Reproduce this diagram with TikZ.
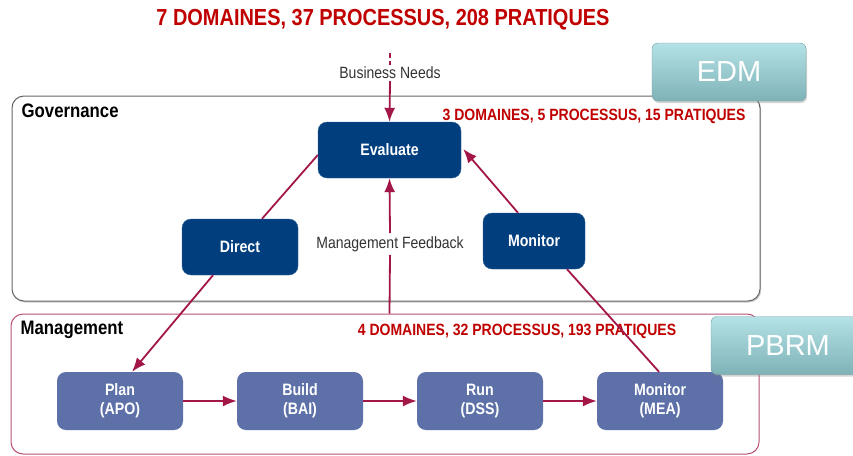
\documentclass[tikz,border=0pt]{standalone}
\usepackage{fontspec}
\setmainfont{Liberation Sans}
\newfontfamily\narrowfont[FakeStretch=0.86]{Liberation Sans}
\usepackage{tikz}
\usetikzlibrary{calc,positioning,arrows.meta,shadows}
\definecolor{navy}{RGB}{0,62,126}
\definecolor{slate}{RGB}{93,113,168}
\definecolor{wine}{RGB}{162,22,72}
\definecolor{titlered}{RGB}{192,0,0}
\definecolor{tealtop}{RGB}{180,226,230}
\definecolor{tealbot}{RGB}{126,178,183}
\tikzset{flow/.style={wine,line width=1.8pt},tip/.style={-{Latex[length=14pt,width=11pt]}},labeltext/.style={font=\narrowfont\fontsize{16.3}{17}\selectfont,text=black!80}}

\begin{document}
\begin{tikzpicture}[x=1pt,y=-1pt]

\tikzset{govnode/.style={font=\narrowfont\bfseries\fontsize{16.5}{17}\selectfont,text=white,fill=navy,draw=navy!80,rounded corners=9pt,minimum height=56pt,inner sep=0pt},
mgmtnode/.style={font=\narrowfont\bfseries\fontsize{16.5}{19}\selectfont,text=white,fill=slate,rounded corners=9pt,minimum width=126pt,minimum height=58pt,inner sep=0pt,align=center},
tealbox/.style={top color=tealtop,bottom color=tealbot,draw=tealbot!90!black,rounded corners=6pt,inner sep=0pt,minimum height=58pt,drop shadow={shadow xshift=1pt,shadow yshift=-2pt,opacity=.35}},
tealtext/.style={font=\fontsize{29}{30}\selectfont,text=white,inner sep=0pt},
countstext/.style={font=\narrowfont\bfseries\fontsize{16.3}{17}\selectfont,text=titlered},
framebox/.style={rounded corners=12pt,minimum width=748pt,inner sep=0pt,fill=white},
framelabel/.style={font=\narrowfont\bfseries\fontsize{19.5}{20}\selectfont,anchor=north west,inner sep=0pt}}

\useasboundingbox (0,0) rectangle (853,455);

% Frames
\node[framebox,draw=black!60,line width=1pt,minimum height=205pt,drop shadow={shadow xshift=1.2pt,shadow yshift=-1.5pt,opacity=.4}] (gov) at (386,198.5) {};
\node[framebox,draw=wine!75,line width=1pt,minimum height=140pt] (mgmt) at (385,384) {};
\node[framelabel] (govlabel) at ($(gov.north west)+(10,8)$) {Governance};
\node[framelabel] (mgmtlabel) at ($(mgmt.north west)+(10,7)$) {Management};

% Title and counts
\node[font=\narrowfont\bfseries\fontsize{23.2}{25}\selectfont,text=titlered] (title) at (383,20) {7 DOMAINES, 37 PROCESSUS, 208 PRATIQUES};
\node[countstext] (govcount) at (594,116) {3 DOMAINES, 5 PROCESSUS, 15 PRATIQUES};
\node[countstext] (mgmtcount) at (517,331) {4 DOMAINES, 32 PROCESSUS, 193 PRATIQUES};

% Governance nodes
\node[govnode,minimum width=143pt] (eval) at (389.5,150) {Evaluate};
\node[govnode,minimum width=116pt] (direct) at (240,247) {Direct};
\node[govnode,minimum width=102pt] (mongov) at (534,241) {Monitor};

% Management nodes
\node[mgmtnode] (plan) at (120,401) {Plan\\(APO)};
\node[mgmtnode] (build) at (300,401) {Build\\(BAI)};
\node[mgmtnode] (run) at (480,401) {Run\\(DSS)};
\node[mgmtnode] (mea) at (660,401) {Monitor\\(MEA)};

% Inputs
\coordinate (needs) at (390,53);
\node[labeltext,inner sep=2pt] (bn) at (390,73) {Business Needs};
\draw[flow,dash pattern=on 5pt off 2.5pt] (needs) -- (bn.north);
\draw[flow,tip] (bn.south) -- (eval.north);

\coordinate (fb) at (eval.south |- mgmt.north);
\node[labeltext,inner sep=3pt] (mf) at (390,244) {Management Feedback};
\draw[flow] (fb) -- (mf.south);
\draw[flow,tip] (mf.north) -- (eval.south);

% Edges
\draw[flow] ($(eval.west)+(0,5)$) -- ($(direct.north)+(22,0)$);
\draw[flow,tip] ($(direct.south)+(-27,0)$) -- ($(plan.north)+(12,0)$);
\draw[flow] ($(mea.north)+(-1,0)$) -- ($(mongov.south)+(33,0)$);
\draw[flow,tip] ($(mongov.north)+(-16,0)$) -- ($(eval.east)+(2,-1)$);
\draw[flow,tip] (plan) -- (build);
\draw[flow,tip] (build) -- (run);
\draw[flow,tip] (run) -- (mea);

% EDM / PBRM tags
\node[tealbox,minimum width=154pt] (edm) at (729,72) {};
\node[tealtext] (edmlabel) at (edm) {EDM};
\node[tealbox,minimum width=170pt] (pbrm) at (796,345.5) {};
\node[tealtext] (pbrmlabel) at (788,346) {PBRM};

\end{tikzpicture}
\end{document}
